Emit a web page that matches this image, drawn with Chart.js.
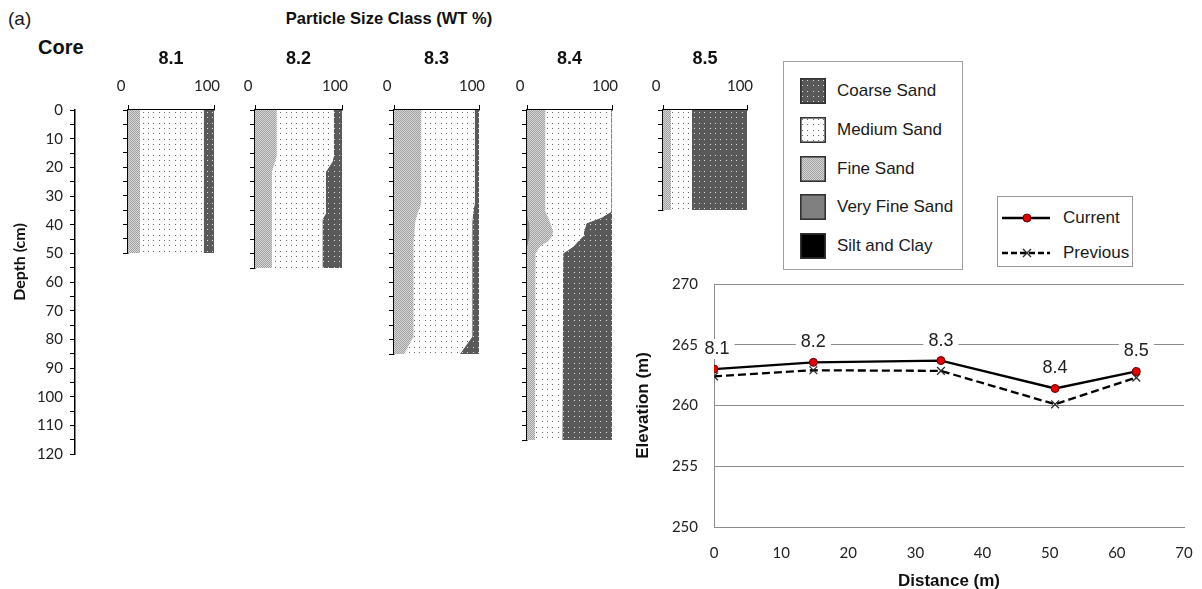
<!DOCTYPE html>
<html>
<head>
<meta charset="utf-8">
<title>Core particle size and elevation profile</title>
<script src="https://cdn.jsdelivr.net/npm/chart.js@4.4.1/dist/chart.umd.min.js"></script>
<style>
  html, body { margin: 0; padding: 0; background: #fff; overflow: hidden; }
  #root { position: relative; width: 1202px; height: 589px; overflow: hidden; }
  .txt { position: absolute; white-space: nowrap; color: #1a1a1a; font-family: "Liberation Sans", Arial, sans-serif; }
  .wrap { position: absolute; }
  .legend { position: absolute; border: 1px solid #a0a0a0; box-sizing: border-box; background: #fff; }
  .sw { position: absolute; }
</style>
</head>
<body>
<div id="root">
  <div class="txt" style="left:8px;top:8px;font-size:19px;line-height:22px;">(a)</div>
  <div class="txt" style="left:38px;top:35px;font-size:20px;line-height:24px;font-weight:bold;color:#111;">Core</div>
  <div class="txt" style="left:389px;top:8px;transform:translateX(-50%);font-size:16.5px;line-height:20px;font-weight:bold;color:#111;">Particle Size Class (WT %)</div>
</div>
<script>
// ---- particle size classes (stacked left to right inside each core) ----
const classes = ['Silt and Clay', 'Very Fine Sand', 'Fine Sand', 'Medium Sand', 'Coarse Sand'];
const legendOrder = ['Coarse Sand', 'Medium Sand', 'Fine Sand', 'Very Fine Sand', 'Silt and Clay'];
const cores = ['8.1', '8.2', '8.3', '8.4', '8.5'];

// ---- core 8.1 (depth in cm, weight %) ----
const depth81 = [0, 50];
const silt81 = [0, 0];
const veryFine81 = [0, 0];
const fine81 = [14, 14];
const medium81 = [74, 74];
const coarse81 = [12, 12];

// ---- core 8.2 ----
const depth82 = [0, 16, 18, 21.5, 36, 38, 55];
const silt82 = [0, 0, 0, 0, 0, 0, 0];
const veryFine82 = [0, 0, 0, 0, 0, 0, 0];
const fine82 = [25, 25, 23, 19.5, 19.5, 19.5, 19.5];
const medium82 = [65.5, 65.5, 66, 62, 62, 58, 58];
const coarse82 = [9.5, 9.5, 11, 18.5, 18.5, 22.5, 22.5];

// ---- core 8.3 ----
const depth83 = [0, 32.5, 36, 39, 46, 79, 85];
const silt83 = [0, 0, 0, 0, 0, 0, 0];
const veryFine83 = [0, 0, 0, 0, 0, 0, 0];
const fine83 = [32, 32, 28, 25, 23, 23, 12];
const medium83 = [63, 63, 65, 67, 69, 69, 65.5];
const coarse83 = [5, 5, 7, 8, 8, 8, 22.5];

// ---- core 8.4 ----
const depth84 = [0, 35.5, 37.5, 39.5, 42.5, 44, 45.5, 47.5, 50, 115];
const silt84 = [0, 0, 0, 0, 0, 0, 0, 0, 0, 0];
const veryFine84 = [0, 0, 1, 3, 3.5, 3, 2, 0, 0, 0];
const fine84 = [21.5, 21.5, 24, 24.5, 27.5, 26, 24, 15.5, 10, 9.5];
const medium84 = [77.5, 77.5, 63, 42.5, 36, 37, 35, 39.5, 32.5, 32];
const coarse84 = [1, 1, 12, 30, 33, 34, 39, 45, 57.5, 58.5];

// ---- core 8.5 ----
const depth85 = [0, 35];
const silt85 = [0, 0];
const veryFine85 = [0, 0];
const fine85 = [9.5, 9.5];
const medium85 = [25, 25];
const coarse85 = [65.5, 65.5];

// ---- ground surface profile along the transect ----
const distance = [0, 14.8, 33.8, 50.8, 62.9];
const elevCurrent = [263.0, 263.55, 263.7, 261.4, 262.8];
const elevPrevious = [262.4, 262.9, 262.85, 260.1, 262.3];

// ---- axis settings ----
const depthMax = 120;
const depthStep = 5;
const depthLabelStep = 10;
const elevMin = 250, elevMax = 270, elevStep = 5;
const distMin = 0, distMax = 70, distStep = 10;

// ---- page layout ----
const PLOT_TOP = 110;
const PX_PER_CM = 344 / 120;
const corePlotX = [[128, 214], [255, 342], [394, 479], [527, 612], [663, 747]];
const coreLayers = [
  [silt81, veryFine81, fine81, medium81, coarse81],
  [silt82, veryFine82, fine82, medium82, coarse82],
  [silt83, veryFine83, fine83, medium83, coarse83],
  [silt84, veryFine84, fine84, medium84, coarse84],
  [silt85, veryFine85, fine85, medium85, coarse85]
];
const coreDepths = [depth81, depth82, depth83, depth84, depth85];

const root = document.getElementById('root');
const TICK_FONT = { family: 'Lato, sans-serif', size: 15 };
const TICK_COLOR = '#222';

// fixed axis box size, with no extra room reserved for overhanging labels
function fixWidth(w) {
  return (s) => { s.width = w; s.paddingTop = 0; s.paddingBottom = 0; s.paddingLeft = 0; s.paddingRight = 0; };
}
function fixHeight(h) {
  return (s) => { s.height = h; s.paddingTop = 0; s.paddingBottom = 0; s.paddingLeft = 0; s.paddingRight = 0; };
}

// ---- fill textures ----
function dotTile(bg, dot) {
  const c = document.createElement('canvas');
  c.width = 16; c.height = 16;
  const g = c.getContext('2d');
  g.fillStyle = bg; g.fillRect(0, 0, 16, 16);
  g.fillStyle = dot;
  for (const y of [2, 7, 13]) for (const x of [2, 7, 13]) g.fillRect(x, y, 1, 1);
  return c;
}
function stippleTile(a, b) {
  const c = document.createElement('canvas');
  c.width = 2; c.height = 2;
  const g = c.getContext('2d');
  g.fillStyle = b; g.fillRect(0, 0, 2, 2);
  g.fillStyle = a; g.fillRect(0, 0, 1, 1); g.fillRect(1, 1, 1, 1);
  return c;
}
const classStyle = {
  'Coarse Sand': { tile: dotTile('#595959', '#dcdcdc') },
  'Medium Sand': { tile: dotTile('#ffffff', '#666666') },
  'Fine Sand': { tile: stippleTile('#a0a0a0', '#d8d8d8') },
  'Very Fine Sand': { solid: '#808080' },
  'Silt and Clay': { solid: '#000000' }
};
function fillFor(ctx, name) {
  const s = classStyle[name];
  return s.tile ? ctx.createPattern(s.tile, 'repeat') : s.solid;
}

function addCanvas(left, top, width, height) {
  const wrap = document.createElement('div');
  wrap.className = 'wrap';
  wrap.style.left = left + 'px';
  wrap.style.top = top + 'px';
  wrap.style.width = width + 'px';
  wrap.style.height = height + 'px';
  const cv = document.createElement('canvas');
  wrap.appendChild(cv);
  root.appendChild(wrap);
  return cv;
}

const common = {
  responsive: true,
  maintainAspectRatio: false,
  animation: false,
  events: []
};

// ---- shared depth axis ----
const depthTitle = {
  id: 'depthTitle',
  afterDraw(chart, args, opts) {
    const { ctx } = chart;
    ctx.save();
    ctx.translate(opts.x, opts.y);
    ctx.rotate(-Math.PI / 2);
    ctx.font = 'bold 16px Lato, sans-serif';
    ctx.fillStyle = '#111';
    ctx.textAlign = 'center';
    ctx.textBaseline = 'middle';
    ctx.fillText(opts.text, 0, 0);
    ctx.restore();
  }
};
{
  const h = Math.round(depthMax * PX_PER_CM);
  const cv = addCanvas(0, PLOT_TOP - 10, 80, h + 22);
  new Chart(cv, {
    type: 'line',
    data: { datasets: [] },
    options: {
      ...common,
      layout: { padding: { top: 10, bottom: 12, left: 0, right: 0 } },
      plugins: {
        legend: { display: false }, tooltip: { enabled: false },
        depthTitle: { text: 'Depth (cm)', x: 20, y: 262 - (PLOT_TOP - 10) }
      },
      scales: {
        x: { type: 'linear', display: false, min: 0, max: 1 },
        y: {
          type: 'linear', reverse: true, min: 0, max: depthMax,
          afterFit: fixWidth(75),
          ticks: {
            stepSize: depthStep, autoSkip: false, padding: 7, color: TICK_COLOR, font: TICK_FONT,
            callback: (v) => (v % depthLabelStep === 0 ? String(v) : '')
          },
          grid: { drawOnChartArea: false, tickLength: 5, color: '#000' },
          border: { color: '#000', width: 1.5 }
        }
      }
    },
    plugins: [depthTitle]
  });
}

// ---- one stacked texture column per core ----
const coreTitle = {
  id: 'coreTitle',
  afterDraw(chart, args, opts) {
    const { ctx, chartArea } = chart;
    ctx.save();
    ctx.font = 'bold 18px "Liberation Sans", Arial, sans-serif';
    ctx.fillStyle = '#111';
    ctx.textAlign = 'center';
    ctx.textBaseline = 'middle';
    ctx.fillText(opts.text, (chartArea.left + chartArea.right) / 2, chartArea.top - 51);
    ctx.restore();
  }
};

cores.forEach((name, i) => {
  const [L, R] = corePlotX[i];
  const depths = coreDepths[i];
  const dMax = depths[depths.length - 1];
  const w = R - L;
  const h = Math.round(dMax * PX_PER_CM);
  const cv = addCanvas(L - 30, PLOT_TOP - 80, w + 40, h + 90);
  const ctx = cv.getContext('2d');
  const datasets = coreLayers[i].map((vals, k) => ({
    label: classes[k],
    data: vals.map((v, j) => ({ x: v, y: depths[j] })),
    fill: k === 0 ? false : '-1',
    backgroundColor: fillFor(ctx, classes[k]),
    borderColor: 'rgba(0,0,0,0)',
    borderWidth: 0,
    pointRadius: 0,
    tension: 0
  }));
  new Chart(cv, {
    type: 'line',
    data: { datasets },
    options: {
      ...common,
      indexAxis: 'y',
      layout: { padding: { left: 0, right: 10, top: 0, bottom: 10 } },
      plugins: {
        legend: { display: false }, tooltip: { enabled: false },
        coreTitle: { text: name }
      },
      scales: {
        x: {
          type: 'linear', position: 'top', min: 0, max: 100, stacked: true, z: 1,
          afterFit: fixHeight(80),
          ticks: { stepSize: 100, padding: 10, labelOffset: -7, maxRotation: 0, color: TICK_COLOR, font: TICK_FONT },
          grid: { drawOnChartArea: false, tickLength: 5, color: '#000' },
          border: { color: '#000', width: 1.5 }
        },
        y: {
          type: 'linear', position: 'left', reverse: true, min: 0, max: dMax, z: 1,
          afterFit: fixWidth(30),
          ticks: { stepSize: depthStep, display: false, autoSkip: false },
          grid: { drawOnChartArea: false, tickLength: 5, color: '#000' },
          border: { color: '#000', width: 1.5 }
        }
      }
    },
    plugins: [coreTitle]
  });
});

// ---- texture legend ----
{
  const box = document.createElement('div');
  box.className = 'legend';
  box.style.cssText += 'left:783px;top:61px;width:180px;height:209px;border-width:1.5px;';
  root.appendChild(box);
  const rowY = [89.5, 128.5, 167.5, 206, 245];
  legendOrder.forEach((name, r) => {
    const sw = document.createElement('canvas');
    sw.width = 26; sw.height = 26;
    sw.className = 'sw';
    sw.style.left = (799 - 783) + 'px';
    sw.style.top = (rowY[r] - 13 - 61) + 'px';
    const g = sw.getContext('2d');
    g.fillStyle = fillFor(g, name);
    g.fillRect(0, 0, 26, 26);
    g.strokeStyle = '#333';
    g.lineWidth = 1.6;
    g.strokeRect(0.8, 0.8, 24.4, 24.4);
    box.appendChild(sw);
    const t = document.createElement('div');
    t.className = 'txt';
    t.textContent = name;
    t.style.cssText += `left:${836 - 783}px;top:${rowY[r] - 10 - 61}px;font-size:17px;line-height:20px;`;
    box.appendChild(t);
  });
}

// ---- elevation profile ----
const pointNames = {
  id: 'pointNames',
  afterDatasetsDraw(chart, args, opts) {
    const { ctx, chartArea } = chart;
    const meta = chart.getDatasetMeta(0);
    ctx.save();
    ctx.font = '18px "Liberation Sans", Arial, sans-serif';
    ctx.textAlign = 'center';
    ctx.textBaseline = 'middle';
    meta.data.forEach((pt, i) => {
      const label = opts.labels[i];
      const x = Math.max(pt.x, chartArea.left + 3);
      const y = pt.y - 20;
      const tw = ctx.measureText(label).width;
      ctx.fillStyle = '#fff';
      ctx.fillRect(x - tw / 2 - 5, y - 10, tw + 10, 20);
      ctx.fillStyle = '#222';
      ctx.fillText(label, x, y);
    });
    ctx.restore();
  }
};
{
  const cv = addCanvas(625, 270, 577, 323);
  new Chart(cv, {
    type: 'line',
    data: {
      datasets: [
        {
          label: 'Current',
          data: distance.map((d, i) => ({ x: d, y: elevCurrent[i] })),
          borderColor: '#000', borderWidth: 2.3, fill: false, tension: 0,
          pointStyle: 'circle', pointRadius: 4, pointBackgroundColor: '#e60000',
          pointBorderColor: '#5a0000', pointBorderWidth: 1
        },
        {
          label: 'Previous',
          data: distance.map((d, i) => ({ x: d, y: elevPrevious[i] })),
          borderColor: '#000', borderWidth: 2.3, borderDash: [8, 4], fill: false, tension: 0,
          pointStyle: 'crossRot', pointRadius: 5.5,
          pointBorderColor: '#2a2a2a', pointBorderWidth: 1.3
        }
      ]
    },
    options: {
      ...common,
      layout: { padding: { top: 14, right: 18, left: 0, bottom: 0 } },
      plugins: {
        legend: { display: false }, tooltip: { enabled: false },
        pointNames: { labels: cores }
      },
      scales: {
        x: {
          type: 'linear', min: distMin, max: distMax,
          afterFit: fixHeight(66),
          ticks: { stepSize: distStep, padding: 17, maxRotation: 0, color: TICK_COLOR, font: TICK_FONT },
          grid: { display: false, drawTicks: false },
          border: { color: '#8c8c8c', width: 1 },
          title: {
            display: true, text: 'Distance (m)', color: '#111',
            font: { family: '"Liberation Sans Narrow", "Liberation Sans", Arial, sans-serif', size: 17, weight: 'bold' },
            padding: { top: 0, bottom: 1 }
          }
        },
        y: {
          type: 'linear', min: elevMin, max: elevMax,
          afterFit: fixWidth(89),
          ticks: { stepSize: elevStep, padding: 16, color: TICK_COLOR, font: TICK_FONT },
          grid: { color: '#8c8c8c', lineWidth: 1, drawTicks: false },
          border: { color: '#8c8c8c', width: 1 },
          title: {
            display: true, text: 'Elevation (m)', color: '#111',
            font: { family: '"Liberation Sans Narrow", "Liberation Sans", Arial, sans-serif', size: 17, weight: 'bold' },
            padding: { top: 8, bottom: 0 }
          }
        }
      }
    },
    plugins: [pointNames]
  });
}

// ---- profile legend ----
{
  const box = document.createElement('div');
  box.className = 'legend';
  box.style.cssText += 'left:997px;top:196px;width:136px;height:71px;border-color:#999;';
  root.appendChild(box);
  const rows = [
    { name: 'Current', y: 216.7, dash: [], marker: 'dot' },
    { name: 'Previous', y: 251.7, dash: [6, 3], marker: 'cross' }
  ];
  rows.forEach((r) => {
    const c = document.createElement('canvas');
    c.width = 50; c.height = 14;
    c.className = 'sw';
    c.style.left = (1001 - 997) + 'px';
    c.style.top = (r.y - 7 - 196) + 'px';
    const g = c.getContext('2d');
    g.strokeStyle = '#000';
    g.lineWidth = 2.3;
    g.setLineDash(r.dash);
    g.beginPath(); g.moveTo(0, 7); g.lineTo(48, 7); g.stroke();
    g.setLineDash([]);
    if (r.marker === 'dot') {
      g.fillStyle = '#e60000'; g.strokeStyle = '#5a0000'; g.lineWidth = 1;
      g.beginPath(); g.arc(25, 7, 4, 0, Math.PI * 2); g.fill(); g.stroke();
    } else {
      g.strokeStyle = '#2a2a2a'; g.lineWidth = 1.3;
      g.beginPath(); g.moveTo(21, 3); g.lineTo(29, 11); g.moveTo(29, 3); g.lineTo(21, 11); g.stroke();
    }
    box.appendChild(c);
    const t = document.createElement('div');
    t.className = 'txt';
    t.textContent = r.name;
    t.style.cssText += `left:${1062 - 997}px;top:${r.y - 10 - 196}px;font-size:17px;line-height:20px;`;
    box.appendChild(t);
  });
}
</script>
</body>
</html>
